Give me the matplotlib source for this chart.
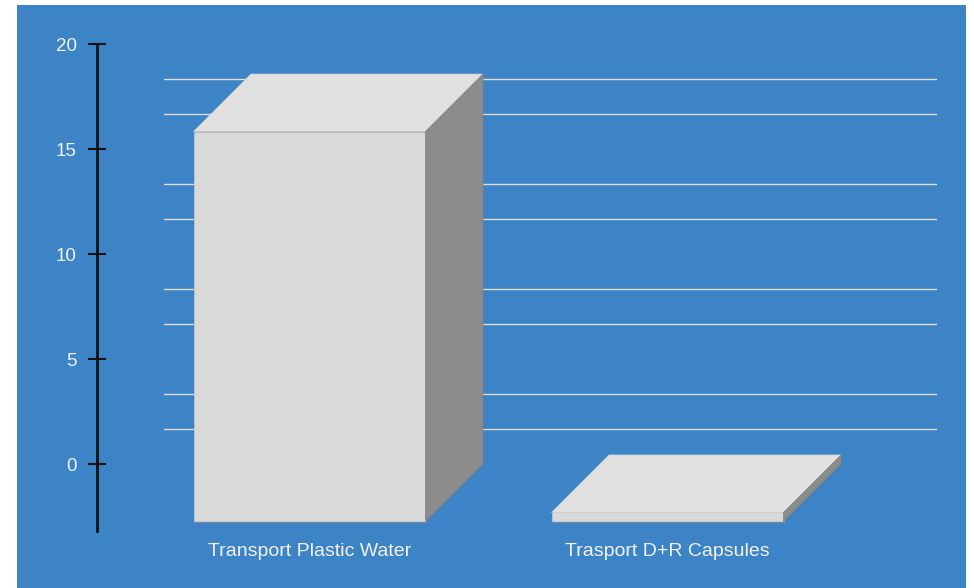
import numpy as np
import matplotlib.pyplot as plt
from matplotlib.patches import Polygon, Rectangle

# Dados
categorias = ["Transport Plastic Water", "Trasport D+R Capsules"]
valores = [18.57, 0.43]
y_ticks = [0, 5, 10, 15, 20]

# Estilo
AZUL = "#3d84c6"
FRENTE = "#d9d9d9"
TOPO = "#e1e1e1"
LADO = "#8c8c8c"
TEXTO = "#f2f2f2"
LARGURA = 0.648
DX, DY = 0.1606, 2.738   # profundidade do efeito 3D (unidades de dados)

plt.rcParams['font.family'] = ['Liberation Sans', 'DejaVu Sans']

fig = plt.figure(figsize=(9.74, 5.88), dpi=100)
fig.patch.set_facecolor("white")
fig.add_artist(Rectangle((17 / 974, 0), (966 - 17) / 974, (588 - 5) / 588,
                         transform=fig.transFigure, facecolor=AZUL,
                         edgecolor="none", zorder=0))

ax = fig.add_axes([164 / 974, (588 - 531) / 588, (937 - 164) / 974, (531 - 44) / 588])
ax.set_facecolor("none")
ax.set_xlim(-0.567, 1.592)
ax.set_ylim(-3.19, 20)

# Grade secundária (terços de cada intervalo)
minor = [v for v in np.arange(0, 20, 5 / 3) if abs(v / 5 - round(v / 5)) > 1e-6]
for g in minor:
    ax.axhline(g, color="#dedede", lw=1, zorder=1)

# Barras em pseudo-3D
for i, v in enumerate(valores):
    l, r = i - LARGURA / 2, i + LARGURA / 2
    frente = Polygon([(l - DX, -DY), (r - DX, -DY), (r - DX, v - DY), (l - DX, v - DY)],
                     closed=True, facecolor=FRENTE, edgecolor="#c4c8cc", lw=0.5, zorder=3)
    topo = Polygon([(l - DX, v - DY), (r - DX, v - DY), (r, v), (l, v)],
                   closed=True, facecolor=TOPO, edgecolor="#d0d0d0", lw=0.5, zorder=3)
    lado = Polygon([(r - DX, -DY), (r, 0), (r, v), (r - DX, v - DY)],
                   closed=True, facecolor=LADO, edgecolor="#808080", lw=0.5, zorder=3)
    for p in (frente, topo, lado):
        p.set_clip_on(False)
        ax.add_patch(p)
    # linha mais escura na base da face frontal
    ax.plot([l - DX, r - DX], [-DY, -DY], color="#6f8aa6", lw=1, zorder=4, clip_on=False)
    ax.annotate(categorias[i], xy=(i, 0), xycoords=("data", "axes fraction"),
                xytext=(-57.5, -21), textcoords="offset pixels",
                ha="center", va="center", fontsize=14, color=TEXTO)

# Eixo Y
for s in ("top", "right", "bottom"):
    ax.spines[s].set_visible(False)
ax.spines["left"].set_position(("outward", 67 * 72 / 100))
ax.spines["left"].set_linewidth(2)
ax.spines["left"].set_color("#111111")
ax.set_xticks([])
ax.set_yticks(y_ticks)
ax.tick_params(axis="y", direction="inout", length=18 * 72 / 100, width=1.5,
               color="#111111", pad=8, labelsize=13.5, labelcolor=TEXTO)

fig.savefig("out.png", dpi=100)
